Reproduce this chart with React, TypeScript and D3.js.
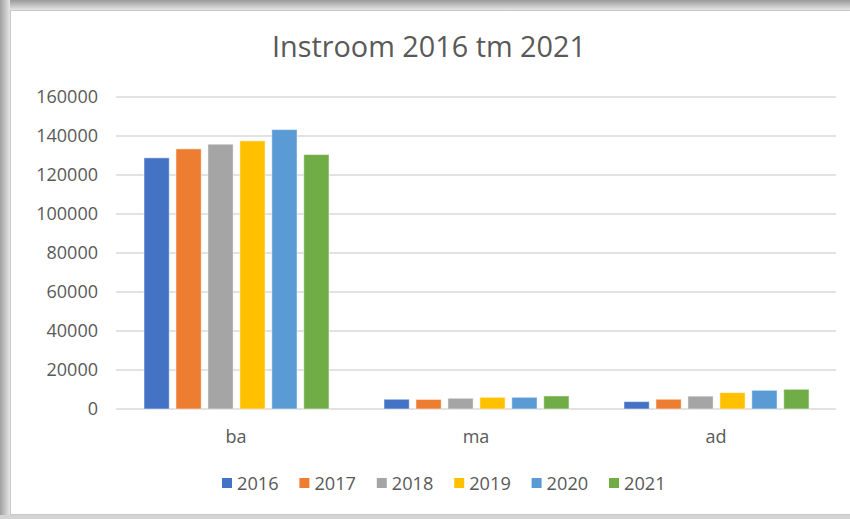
import { useEffect, useRef } from 'react';
import * as d3 from 'd3';

// chart data
const categories = ['ba', 'ma', 'ad'];
const years = ['2016', '2017', '2018', '2019', '2020', '2021'];
const values2016 = [128800, 5000, 3800];
const values2017 = [133400, 4900, 5000];
const values2018 = [135800, 5500, 6600];
const values2019 = [137500, 6000, 8400];
const values2020 = [143300, 6000, 9600];
const values2021 = [130500, 6700, 10100];
const yTicks = [0, 20000, 40000, 60000, 80000, 100000, 120000, 140000, 160000];
const colors = ['#4472C4', '#ED7D31', '#A5A5A5', '#FFC000', '#5B9BD5', '#70AD47'];

const App = () => {
  const chartRef = useRef<HTMLDivElement>(null);

  useEffect(() => {
    d3.select(chartRef.current).select('svg').remove();

    const width = 850;
    const height = 519;
    const font = '"Open Sans", "Liberation Sans", sans-serif';
    const textColor = '#595959';
    const plot = { left: 116, right: 836, top: 97, bottom: 409 };

    const series = [values2016, values2017, values2018, values2019, values2020, values2021];
    const rows = categories.map((c, ci) => ({
      category: c,
      bars: years.map((y, yi) => ({ year: y, value: series[yi][ci], color: colors[yi] }))
    }));

    const svg = d3.select(chartRef.current)
      .append('svg')
      .attr('width', width)
      .attr('height', height)
      .style('display', 'block');

    // frame with shadow, like the Excel chart screenshot
    const defs = svg.append('defs');
    const topGrad = defs.append('linearGradient').attr('id', 'topShade')
      .attr('x1', 0).attr('y1', 0).attr('x2', 0).attr('y2', 1);
    topGrad.append('stop').attr('offset', '0%').attr('stop-color', '#9a9a9a');
    topGrad.append('stop').attr('offset', '100%').attr('stop-color', '#e4e4e4');
    const leftGrad = defs.append('linearGradient').attr('id', 'leftShade')
      .attr('x1', 0).attr('y1', 0).attr('x2', 1).attr('y2', 0);
    leftGrad.append('stop').attr('offset', '0%').attr('stop-color', '#a0a0a0');
    leftGrad.append('stop').attr('offset', '100%').attr('stop-color', '#e6e6e6');

    svg.append('rect').attr('width', width).attr('height', height).attr('fill', '#ffffff');
    svg.append('rect').attr('x', 0).attr('y', 0).attr('width', width).attr('height', 10)
      .attr('fill', 'url(#topShade)');
    svg.append('rect').attr('x', 0).attr('y', 0).attr('width', 10).attr('height', height)
      .attr('fill', 'url(#leftShade)');
    svg.append('rect').attr('x', 0).attr('y', 515).attr('width', width).attr('height', 4)
      .attr('fill', '#d4d4d4');
    svg.append('rect')
      .attr('x', 10.5).attr('y', 10.5)
      .attr('width', width - 10).attr('height', 504)
      .attr('fill', '#ffffff')
      .attr('stroke', '#c8c8c8')
      .attr('stroke-width', 1);

    // title
    svg.append('text')
      .attr('x', 429)
      .attr('y', 57)
      .attr('text-anchor', 'middle')
      .attr('font-family', font)
      .attr('font-size', 28.8)
      .attr('fill', textColor)
      .text('Instroom 2016 tm 2021');

    // scales
    const scaleX = d3.scaleBand()
      .domain(categories)
      .range([plot.left, plot.right])
      .padding(0);
    const scaleX1 = d3.scaleBand()
      .domain(years)
      .range([28, 213])
      .paddingInner(0.21)
      .paddingOuter(0);
    const scaleY = d3.scaleLinear()
      .domain([0, 160000])
      .range([plot.bottom, plot.top]);

    // gridlines + y labels
    const grid = svg.append('g');
    grid.selectAll('line')
      .data(yTicks)
      .join('line')
      .attr('x1', plot.left)
      .attr('x2', plot.right)
      .attr('y1', d => scaleY(d))
      .attr('y2', d => scaleY(d))
      .attr('stroke', '#d9d9d9')
      .attr('stroke-width', 1.6);
    grid.selectAll('text')
      .data(yTicks)
      .join('text')
      .attr('x', 98)
      .attr('y', d => scaleY(d))
      .attr('dy', '0.36em')
      .attr('text-anchor', 'end')
      .attr('font-family', font)
      .attr('font-size', 18)
      .attr('fill', textColor)
      .text(d => String(d));

    // bars
    const groups = svg.append('g')
      .selectAll('g')
      .data(rows)
      .join('g')
      .attr('transform', d => `translate(${scaleX(d.category)}, 0)`);
    groups.selectAll('rect')
      .data(d => d.bars)
      .join('rect')
      .attr('x', d => scaleX1(d.year) as number)
      .attr('y', d => scaleY(d.value))
      .attr('width', scaleX1.bandwidth())
      .attr('height', d => scaleY(0) - scaleY(d.value))
      .attr('fill', d => d.color)
      .attr('stroke', '#ffffff')
      .attr('stroke-opacity', 0.5)
      .attr('stroke-width', 1);

    // category labels
    svg.append('g')
      .selectAll('text')
      .data(categories)
      .join('text')
      .attr('x', d => (scaleX(d) as number) + scaleX.bandwidth() / 2)
      .attr('y', 443)
      .attr('text-anchor', 'middle')
      .attr('font-family', font)
      .attr('font-size', 18)
      .attr('fill', textColor)
      .text(d => d);

    // legend
    const legend = svg.append('g')
      .selectAll('g')
      .data(years)
      .join('g')
      .attr('transform', (d, i) => `translate(${222 + i * 77.4}, 0)`);
    legend.append('rect')
      .attr('x', 0)
      .attr('y', 478)
      .attr('width', 10)
      .attr('height', 10)
      .attr('fill', (d, i) => colors[i]);
    legend.append('text')
      .attr('x', 15)
      .attr('y', 490)
      .attr('font-family', font)
      .attr('font-size', 18.2)
      .attr('fill', textColor)
      .text(d => d);
  }, []);

  return (
    <div
      className='barchart'
      ref={chartRef}
      style={{ position: 'absolute', left: 0, top: 0 }}
    ></div>
  );
};

export default App;
